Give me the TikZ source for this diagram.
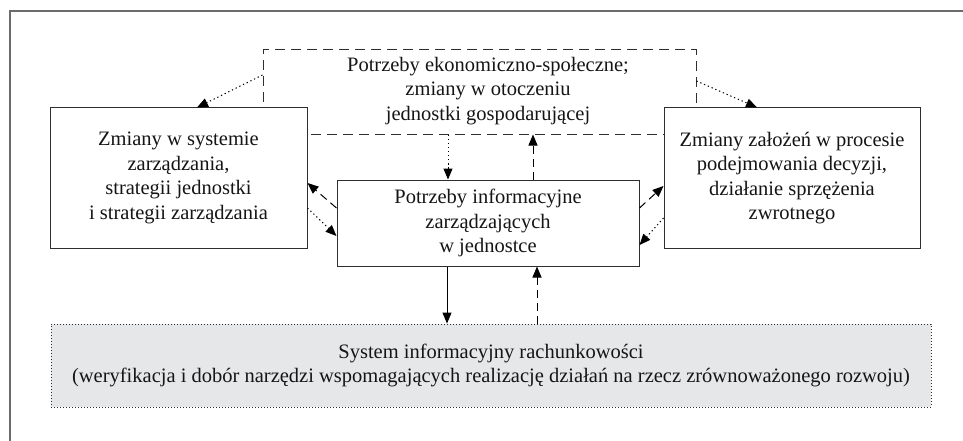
\documentclass[tikz,border=0pt]{standalone}
\usepackage{fontspec}
\setmainfont{Liberation Serif}
\usetikzlibrary{arrows.meta}
\definecolor{framegray}{HTML}{6B6B6B}
\definecolor{boxline}{HTML}{2E2E2E}
\definecolor{sysfill}{HTML}{E6E7E8}
\definecolor{txt}{HTML}{151515}
\begin{document}
\begin{tikzpicture}[x=1pt,y=-1pt,
  every node/.style={font=\fontsize{20.5}{24.5}\selectfont, text=txt},
  boxnode/.style={draw=boxline, line width=1pt, fill=white, align=center, inner sep=0pt},
  envbox/.style={draw=boxline, line width=1pt, dash pattern=on 10pt off 6pt, inner sep=0pt},
  sysbox/.style={draw=boxline, line width=0.9pt, dash pattern=on 1pt off 2pt, fill=sysfill, align=center, inner sep=0pt},
  tip/.style={-{Triangle[length=11pt,width=9pt]}},
  dotarrow/.style={tip, line width=1pt, dash pattern=on 1.3pt off 2.8pt},
  dasharrow/.style={tip, line width=1pt, dash pattern=on 8pt off 5pt},
  solidarrow/.style={tip, line width=1pt},
  framestyle/.style={draw=framegray, line width=1.6pt}
]
\useasboundingbox (0,0) rectangle (963,441);
% outer frame
\coordinate (f1) at (10,442);
\coordinate (f2) at (10,11);
\coordinate (f3) at (964,11);
\draw[framestyle] (f1) -- (f2) -- (f3);

% environment dashed box
\node[envbox, minimum width=433pt, minimum height=84pt] (env) at (479.5,92) {};
\node[align=center] (envtxt) at (488,91) {Potrzeby ekonomiczno-społeczne;\\zmiany w otoczeniu\\jednostki gospodarującej};

% boxes
\node[boxnode, minimum width=257pt, minimum height=140pt] (lb) at (178.5,178)
  {Zmiany w systemie\\zarządzania,\\strategii jednostki\\i strategii zarządzania};
\node[boxnode, minimum width=256pt, minimum height=140pt] (rb) at (792,178)
  {Zmiany założeń w procesie\\podejmowania decyzji,\\działanie sprzężenia\\zwrotnego};
\node[boxnode, minimum width=302pt, minimum height=86pt] (mid) at (488,223)
  {Potrzeby informacyjne\\zarządzających\\w jednostce};
\node[sysbox, minimum width=880pt, minimum height=83pt] (sys) at (491,365.5)
  {System informacyjny rachunkowości\\(weryfikacja i dobór narzędzi wspomagających realizację działań na rzecz zrównoważonego rozwoju)};

% connectors
\draw[dotarrow] ([yshift=17pt]env.west) -- ([xshift=18.5pt]lb.north);
\draw[dotarrow] ([yshift=11pt]env.east) -- ([xshift=-35pt]rb.north);
\draw[dotarrow] ([xshift=-31.5pt]env.south) -- ([xshift=-40pt]mid.north);
\draw[dasharrow] ([xshift=45pt]mid.north) -- ([xshift=53.5pt]env.south);
\draw[dasharrow] ([yshift=15pt]mid.west) -- ([yshift=-5pt]lb.east);
\draw[dotarrow] ([yshift=-30pt]lb.east) -- ([yshift=-13pt]mid.west);
\draw[dasharrow] ([yshift=15pt]mid.east) -- ([yshift=-8pt]rb.west);
\draw[dotarrow] ([yshift=-40pt]rb.west) -- ([yshift=-22pt]mid.east);
\draw[solidarrow] ([xshift=-41pt]mid.south) -- ([xshift=-44pt]sys.north);
\draw[dasharrow] ([xshift=46pt]sys.north) -- ([xshift=49pt]mid.south);
\end{tikzpicture}
\end{document}
